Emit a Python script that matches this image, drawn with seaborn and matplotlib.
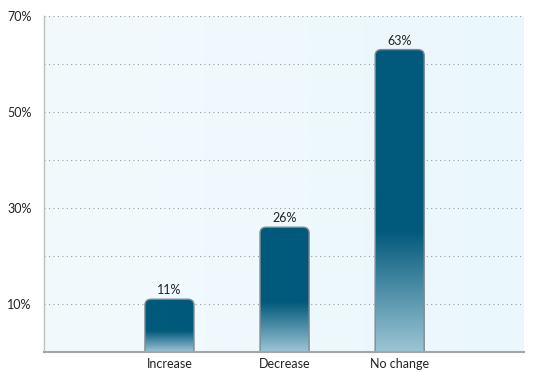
import numpy as np
import pandas as pd
import matplotlib
matplotlib.use("Agg")
import matplotlib.pyplot as plt
from matplotlib.patches import FancyBboxPatch
from matplotlib.colors import to_rgba
import seaborn as sns

categories = ["Increase", "Decrease", "No change"]
values = [11, 26, 63]
value_labels = ["11%", "26%", "63%"]
ytick_values = [10, 30, 50, 70]
ytick_labels = ["10%", "30%", "50%", "70%"]

sns.set_style("white")
plt.rcParams["font.family"] = ["Lato", "DejaVu Sans"]

fig = plt.figure(figsize=(5.37, 3.72), dpi=100)
ax = fig.add_axes([44/537, 20/372, 480/537, 336/372])

df = pd.DataFrame({"cat": categories, "val": values})
sns.barplot(data=df, x="cat", y="val", ax=ax, width=0.426, color="#005a7c", zorder=2)

XLIM = (-1.09, 3.08)
YLIM = (0, 70)

# background gradient
bg = np.zeros((2, 100, 4))
c1 = np.array(to_rgba("#f3fafd"))
c2 = np.array(to_rgba("#eaf7fd"))
for i in range(100):
    bg[:, i, :] = c1 + (c2 - c1) * i / 99
ax.imshow(bg, extent=[XLIM[0], XLIM[1], YLIM[0], YLIM[1]], aspect="auto",
          zorder=0, origin="lower", interpolation="bilinear")

dark = np.array(to_rgba("#02597b"))
light = np.array(to_rgba("#9cc5d5"))
N = 200
for p, lab in zip(list(ax.patches), value_labels):
    x0 = p.get_x(); w = p.get_width(); h = p.get_height()
    p.set_visible(False)
    grad = np.zeros((N, 1, 4))
    for i in range(N):
        t = i / (N - 1)  # 0 bottom, 1 top
        f = min(t / 0.4, 1.0)
        grad[i, 0, :] = light + (dark - light) * f
    box = FancyBboxPatch((x0, -3), w, h + 3,
                         boxstyle="round,pad=0,rounding_size=0.055",
                         mutation_aspect=22, transform=ax.transData,
                         facecolor="none", edgecolor="#7d8a90", linewidth=1.0,
                         zorder=4)
    ax.add_patch(box)
    im = ax.imshow(grad, extent=[x0, x0 + w, 0, h], aspect="auto", origin="lower",
                   zorder=3, interpolation="bilinear")
    im.set_clip_path(box)
    ax.text(x0 + w/2, h + 0.6, lab, ha="center", va="bottom", fontsize=9,
            color="#222222", zorder=5)

ax.set_xlim(*XLIM)
ax.set_ylim(*YLIM)
ax.set_xlabel("")
ax.set_ylabel("")

for yv in range(10, 71, 10):
    ax.axhline(yv, color="#9a9a9a", linewidth=0.8, linestyle=(0, (1, 3)),
               zorder=1, clip_on=False)

ax.set_yticks(ytick_values)
ax.set_yticklabels(ytick_labels, fontsize=9, color="#222222")
ax.tick_params(axis="y", length=0, pad=9)
ax.set_xticks(range(len(categories)))
ax.set_xticklabels(categories, fontsize=9, color="#222222")
ax.tick_params(axis="x", which="major", length=0, pad=4)
ax.set_xticks([0.5, 1.5], minor=True)
ax.tick_params(axis="x", which="minor", length=6, width=1, color="#555555",
               direction="out")

for s in ["top", "right"]:
    ax.spines[s].set_visible(False)
ax.spines["left"].set_color("#c0c0c0")
ax.spines["left"].set_linewidth(1.0)
ax.spines["bottom"].set_color("#a5a5a5")
ax.spines["bottom"].set_linewidth(1.5)
ax.spines["bottom"].set_zorder(6)

fig.savefig("out.png", dpi=100)
